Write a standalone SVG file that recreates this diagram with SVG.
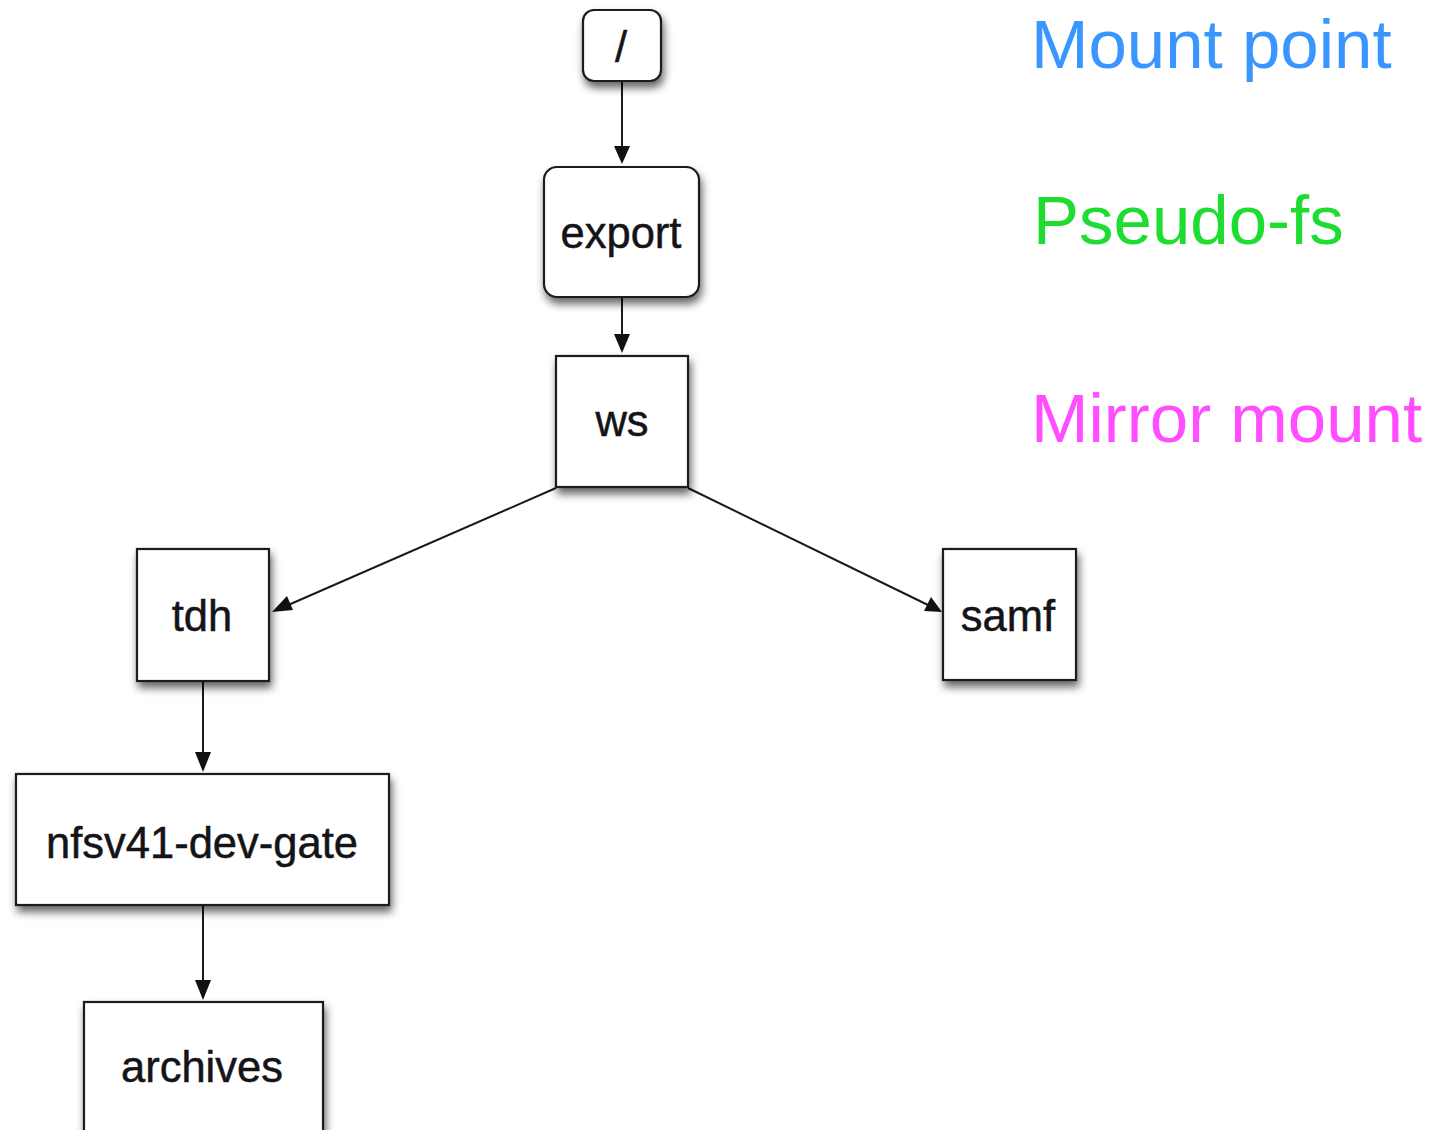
<svg xmlns="http://www.w3.org/2000/svg" width="1433" height="1130" viewBox="0 0 1433 1130">
  <style>
    .box { fill: #ffffff; stroke: #1a1a1a; stroke-width: 2.2; filter: url(#shadow); }
    .label { font-family: "Liberation Sans", Arial, sans-serif; font-size: 43.5px; fill: #141418; stroke: #141418; stroke-width: 0.5; text-anchor: middle; }
    .legend { font-family: "Liberation Sans", Arial, sans-serif; font-size: 69px; }
    .edge { fill: none; stroke: #1a1a1a; stroke-width: 2; }
    .head { fill: #111; }
  </style>
  <defs>
    <filter id="shadow" x="-20%" y="-20%" width="150%" height="150%">
      <feDropShadow dx="2" dy="6" stdDeviation="4.5" flood-color="#000" flood-opacity="0.6"/>
    </filter>
  </defs>
  <rect width="1433" height="1130" fill="#ffffff"/>

  <!-- connectors -->
  <g id="connectors">
    <line class="edge" x1="622" y1="81" x2="622" y2="150"/>
    <path class="head" d="M614,146 L622,164 L630,146 Z"/>
    <line class="edge" x1="622" y1="297" x2="622" y2="338"/>
    <path class="head" d="M614,334 L622,353 L630,334 Z"/>
    <line class="edge" x1="556" y1="488" x2="286" y2="606"/>
    <path class="head" d="M272,612 L287,596 L293,610 Z"/>
    <line class="edge" x1="688" y1="488" x2="928" y2="605"/>
    <path class="head" d="M942,612 L924,611 L931,597 Z"/>
    <line class="edge" x1="203" y1="681" x2="203" y2="756"/>
    <path class="head" d="M195,752 L203,772 L211,752 Z"/>
    <line class="edge" x1="203" y1="906" x2="203" y2="984"/>
    <path class="head" d="M195,980 L203,1000 L211,980 Z"/>
  </g>

  <!-- nodes -->
  <g id="node-root">
    <rect class="box" x="583" y="10" width="78" height="71" rx="11"/>
    <text class="label" x="621" y="62">/</text>
  </g>
  <g id="node-export">
    <rect class="box" x="544" y="167" width="155" height="130" rx="13"/>
    <text class="label" x="621" y="248">export</text>
  </g>
  <g id="node-ws">
    <rect class="box" x="556" y="356" width="132" height="131"/>
    <text class="label" x="622" y="436">ws</text>
  </g>
  <g id="node-tdh">
    <rect class="box" x="137" y="549" width="132" height="132"/>
    <text class="label" x="202" y="631">tdh</text>
  </g>
  <g id="node-samf">
    <rect class="box" x="943" y="549" width="133" height="131"/>
    <text class="label" x="1008" y="631">samf</text>
  </g>
  <g id="node-nfsv41-dev-gate">
    <rect class="box" x="16" y="774" width="373" height="131"/>
    <text class="label" x="202" y="858">nfsv41-dev-gate</text>
  </g>
  <g id="node-archives">
    <rect class="box" x="84" y="1002" width="239" height="150"/>
    <text class="label" x="202" y="1082">archives</text>
  </g>

  <!-- legend -->
  <g id="legend">
    <text class="legend" x="1031" y="68" fill="#3a96ff">Mount point</text>
    <text class="legend" x="1033" y="244" fill="#1edc30">Pseudo-fs</text>
    <text class="legend" x="1031" y="442" fill="#ff4dff">Mirror mount</text>
  </g>
</svg>
